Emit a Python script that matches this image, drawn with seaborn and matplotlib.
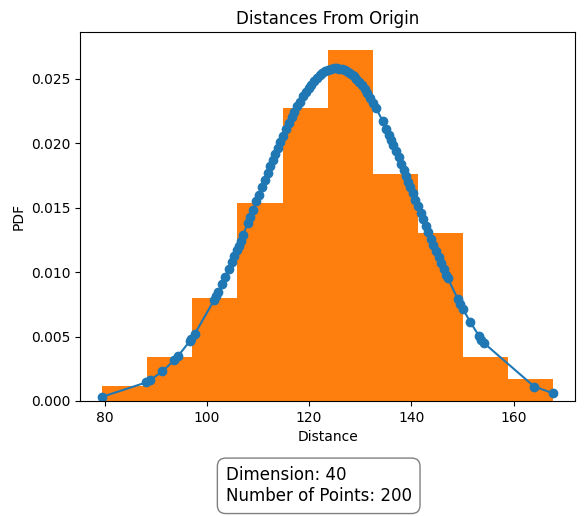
import matplotlib
matplotlib.use("Agg")
import matplotlib.pyplot as plt
import seaborn as sns
import numpy as np

# histogram (10 bins, 200 points)
bin_edges = [79.6, 88.4, 97.2, 106.0, 114.8, 123.6, 132.4, 141.2, 150.0, 158.8, 167.6]
bin_counts = [2, 6, 14, 27, 40, 48, 31, 23, 6, 3]

# marker positions along the fitted curve (x = distance, y = pdf)
curve_x = [79.6, 88.2, 88.9, 91.3, 93.6, 94.3, 96.7, 97.0, 97.6, 101.4,
           101.8, 102.2, 103.0, 103.6, 104.3, 104.9, 105.4, 105.9, 106.2, 106.6,
           107.1, 108.0, 108.5, 109.0, 109.7, 110.2, 110.8, 111.3, 111.9, 112.4,
           112.9, 113.4, 113.9, 114.4, 114.9, 115.5, 116.0, 116.6, 117.1, 117.7,
           118.2, 118.8, 119.3, 119.9, 120.4, 121.0, 121.5, 122.1, 122.6, 123.2,
           123.7, 124.3, 124.8, 125.4, 125.9, 126.5, 127.0, 127.6, 128.1, 128.7,
           129.2, 129.8, 130.3, 130.9, 131.4, 132.0, 132.5, 133.1, 134.4, 135.1,
           135.6, 136.1, 136.5, 137.0, 137.5, 138.0, 138.5, 139.0, 139.4, 139.8,
           140.3, 140.8, 141.3, 141.8, 142.3, 142.8, 143.3, 143.8, 144.3, 144.8,
           145.3, 145.8, 146.3, 146.8, 147.1, 149.1, 149.6, 150.1, 151.5, 153.2,
           153.7, 154.2, 164.0, 167.6]
curve_y = [0.000325, 0.001445, 0.001609, 0.002292, 0.003146, 0.003449, 0.004654, 0.004824, 0.005176, 0.007804,
           0.008120, 0.008444, 0.009111, 0.009629, 0.010250, 0.010799, 0.011264, 0.011737, 0.012024, 0.012412,
           0.012901, 0.013794, 0.014296, 0.014800, 0.015508, 0.016015, 0.016623, 0.017126, 0.017726, 0.018221,
           0.018710, 0.019193, 0.019667, 0.020131, 0.020586, 0.021114, 0.021541, 0.022034, 0.022429, 0.022877,
           0.023233, 0.023633, 0.023945, 0.024290, 0.024553, 0.024840, 0.025052, 0.025273, 0.025428, 0.025582,
           0.025682, 0.025766, 0.025807, 0.025820, 0.025801, 0.025742, 0.025664, 0.025535, 0.025399, 0.025202,
           0.025010, 0.024748, 0.024502, 0.024178, 0.023884, 0.023503, 0.023163, 0.022731, 0.021708, 0.021114,
           0.020675, 0.020224, 0.019854, 0.019383, 0.018904, 0.018418, 0.017925, 0.017426, 0.017026, 0.016623,
           0.016117, 0.015609, 0.015104, 0.014597, 0.014094, 0.013594, 0.013098, 0.012606, 0.012121, 0.011642,
           0.011170, 0.010707, 0.010250, 0.009805, 0.009541, 0.007883, 0.007495, 0.007120, 0.006130, 0.005056,
           0.004767, 0.004489, 0.001120, 0.000609]

dimension = 40
n_points = 200

fig = plt.figure(figsize=(5.88, 5.16), dpi=100)
ax = fig.add_axes([0.136, 0.223, 0.842, 0.715])

bin_centers = [(a + b) / 2 for a, b in zip(bin_edges[:-1], bin_edges[1:])]
sns.histplot(x=bin_centers, weights=bin_counts, bins=bin_edges, stat="density",
             color="C1", alpha=1, linewidth=0, ax=ax)
sns.lineplot(x=curve_x, y=curve_y, marker="o", markersize=6, color="C0",
             markeredgecolor="C0", markeredgewidth=1, linewidth=1.5,
             estimator=None, ax=ax)

ax.set_title("Distances From Origin")
ax.set_xlabel("Distance")
ax.set_ylabel("PDF")
ax.set_ylim(0, None)

fig.text(0.542, 0.0585, f"Dimension: {dimension}\nNumber of Points: {n_points}",
         ha="center", va="center", multialignment="left", fontsize=12,
         bbox=dict(boxstyle="round,pad=0.5", facecolor="white", edgecolor="gray"))

plt.savefig("out.png", dpi=100)
